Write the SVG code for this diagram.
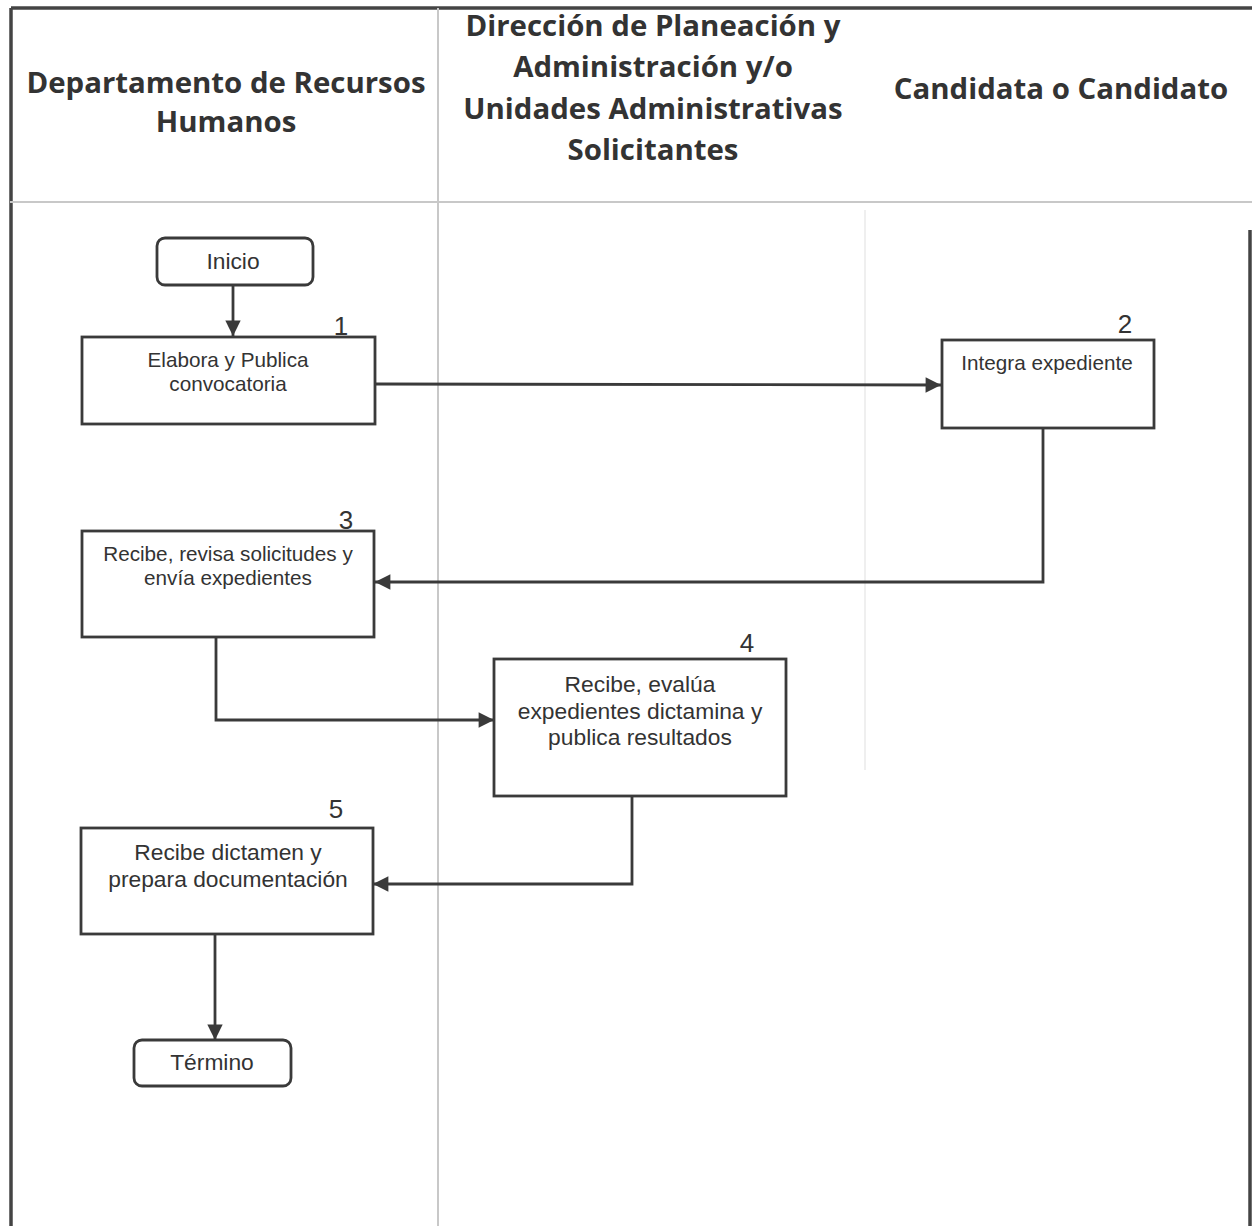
<svg xmlns="http://www.w3.org/2000/svg" width="1252" height="1226" viewBox="0 0 1252 1226">
<defs>
<style>
.frame{stroke:#444;stroke-width:3.5;fill:none}
.lane{stroke:#c8c8c8;stroke-width:2;fill:none}
.hdr{font-family:"Open Sans",Lato,"Liberation Sans",sans-serif;font-weight:bold;font-size:29.4px;fill:#333;text-anchor:middle}
.box{fill:#fff;stroke:#3a3a3a;stroke-width:2.8}
.t{font-family:"Liberation Sans",Arial,sans-serif;font-size:20.7px;fill:#333;text-anchor:middle}
.tl{font-family:"Liberation Sans",Arial,sans-serif;font-size:22.8px;fill:#333;text-anchor:middle}
.num{font-family:"Liberation Sans",Arial,sans-serif;font-size:26px;fill:#333;text-anchor:middle}
.conn{stroke:#3a3a3a;stroke-width:2.8;fill:none;marker-end:url(#ah)}
</style>
<marker id="ah" viewBox="0 0 10 10" refX="10" refY="5" markerWidth="6" markerHeight="5.5" markerUnits="strokeWidth" orient="auto">
<path d="M0,0 L10,5 L0,10 z" fill="#3a3a3a"/>
</marker>
</defs>
<rect width="1252" height="1226" fill="#fff"/>
<g id="frame">
<line class="frame" x1="11" y1="8" x2="1252" y2="8"/>
<line class="frame" x1="11" y1="8" x2="11" y2="1226"/>
<line class="frame" x1="1250" y1="230" x2="1250" y2="1226"/>
<line class="lane" x1="10" y1="202" x2="1252" y2="202"/>
<line class="lane" x1="438" y1="8" x2="438" y2="1226"/>
<line stroke="#efefef" stroke-width="2" x1="865" y1="210" x2="865" y2="770"/>
</g>
<g id="headers">
<text class="hdr" x="226" y="93">Departamento de Recursos</text>
<text class="hdr" x="226" y="132">Humanos</text>
<text class="hdr" x="653" y="36">Dirección de Planeación y</text>
<text class="hdr" x="653" y="77">Administración y/o</text>
<text class="hdr" x="653" y="119">Unidades Administrativas</text>
<text class="hdr" x="653" y="160">Solicitantes</text>
<text class="hdr" x="1061" y="99">Candidata o Candidato</text>
</g>
<g id="connectors">
<path class="conn" d="M233,285 L233,336"/>
<path class="conn" d="M375,384 L941,385"/>
<path class="conn" d="M1043,428 L1043,582 L375,582"/>
<path class="conn" d="M216,637 L216,720 L494,720"/>
<path class="conn" d="M632,796 L632,884 L373,884"/>
<path class="conn" d="M215,934 L215,1040"/>
</g>
<g id="inicio">
<rect class="box" x="157" y="238" width="156" height="47" rx="8"/>
<text class="tl" x="233" y="269">Inicio</text>
</g>
<g id="n1">
<rect class="box" x="82" y="337" width="293" height="87"/>
<text class="num" x="341" y="335">1</text>
<text class="t" x="228" y="367">Elabora y Publica</text>
<text class="t" x="228" y="391">convocatoria</text>
</g>
<g id="n2">
<rect class="box" x="942" y="340" width="212" height="88"/>
<text class="num" x="1125" y="333">2</text>
<text class="t" x="1047" y="370">Integra expediente</text>
</g>
<g id="n3">
<rect class="box" x="82" y="531" width="292" height="106"/>
<text class="num" x="346" y="529">3</text>
<text class="t" x="228" y="561">Recibe, revisa solicitudes y</text>
<text class="t" x="228" y="585">envía expedientes</text>
</g>
<g id="n4">
<rect class="box" x="494" y="659" width="292" height="137"/>
<text class="num" x="747" y="652">4</text>
<text class="tl" x="640" y="692">Recibe, evalúa</text>
<text class="tl" x="640" y="719">expedientes dictamina y</text>
<text class="tl" x="640" y="745">publica resultados</text>
</g>
<g id="n5">
<rect class="box" x="81" y="828" width="292" height="106"/>
<text class="num" x="336" y="818">5</text>
<text class="tl" x="228" y="860">Recibe dictamen y</text>
<text class="tl" x="228" y="887">prepara documentación</text>
</g>
<g id="termino">
<rect class="box" x="134" y="1040" width="157" height="46" rx="8"/>
<text class="tl" x="212" y="1070">Término</text>
</g>
</svg>
